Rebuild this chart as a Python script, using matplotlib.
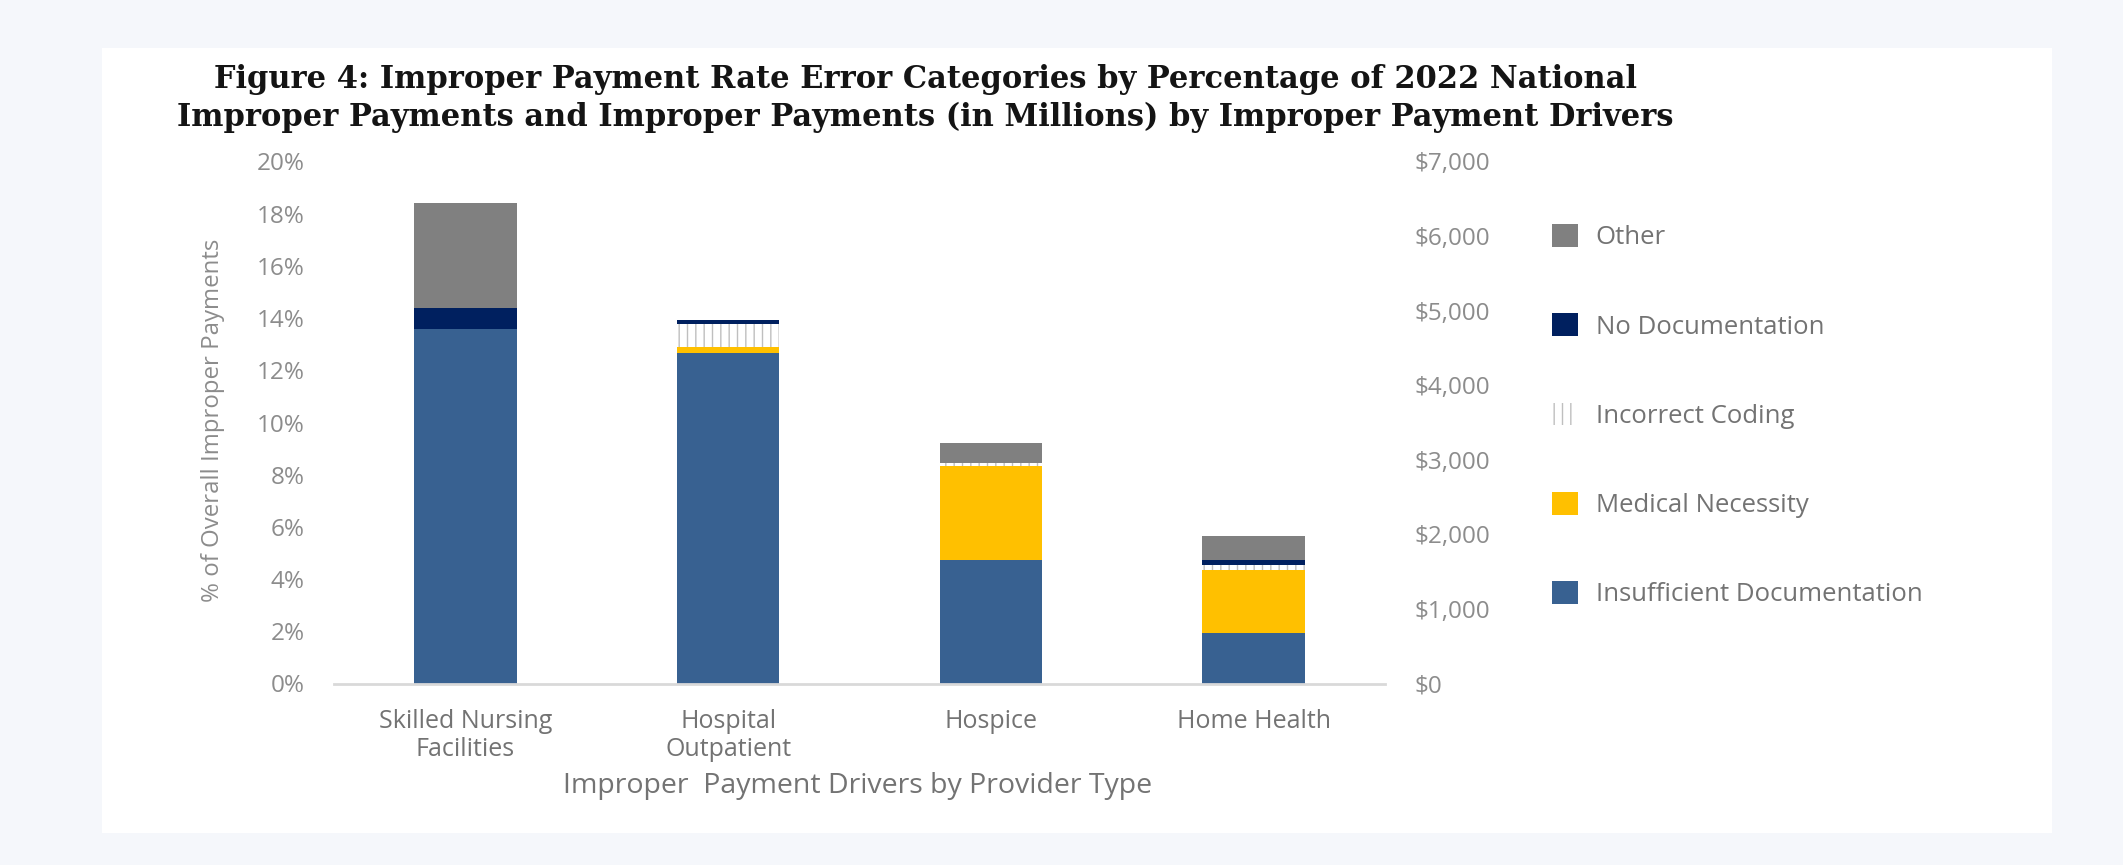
import matplotlib
matplotlib.use("Agg")
import matplotlib.pyplot as plt
from matplotlib.patches import Patch, Rectangle
import numpy as np

# ---- data ----
categories = ["Skilled Nursing\nFacilities", "Hospital\nOutpatient", "Hospice", "Home Health"]
series_names = ["Insufficient Documentation", "Medical Necessity", "Incorrect Coding",
                "No Documentation", "Other"]
insufficient_doc = [13.6, 12.66, 4.73, 1.93]
medical_necessity = [0.0, 0.23, 3.60, 2.42]
incorrect_coding = [0.0, 0.90, 0.12, 0.19]
no_documentation = [0.80, 0.15, 0.0, 0.19]
other = [4.0, 0.0, 0.77, 0.92]
left_ticks = [0, 2, 4, 6, 8, 10, 12, 14, 16, 18, 20]
right_ticks = [0, 1000, 2000, 3000, 4000, 5000, 6000, 7000]
title_lines = ["Figure 4: Improper Payment Rate Error Categories by Percentage of 2022 National",
               "Improper Payments and Improper Payments (in Millions) by Improper Payment Drivers"]

series = [insufficient_doc, medical_necessity, incorrect_coding, no_documentation, other]
colors = ["#386191", "#FFC000", "#FFFFFF", "#00205F", "#808080"]
hatches = [None, None, "||", None, None]

W, H, DPI = 2123, 865, 100
fig = plt.figure(figsize=(W / DPI, H / DPI), dpi=DPI)
fig.patch.set_facecolor("#F5F7FB")

# white panel
fig.patches.append(Rectangle((102 / W, 1 - 833 / H), (2052 - 102) / W, (833 - 48) / H,
                             transform=fig.transFigure, facecolor="white",
                             edgecolor="none", zorder=-5))

sans = ["Open Sans", "DejaVu Sans"]
tick_gray = "#8C8C8C"
text_gray = "#737373"

ax_l, ax_r = 334 / W, 1385 / W
ax_b, ax_t = 1 - 683.5 / H, 1 - 161.5 / H
ax = fig.add_axes([ax_l, ax_b, ax_r - ax_l, ax_t - ax_b])
ax.set_facecolor("none")

x = np.arange(len(categories))
bottom = np.zeros(len(categories))
for vals, c, h in zip(series, colors, hatches):
    vals = np.array(vals)
    if h:
        ax.bar(x, vals, 0.39, bottom=bottom, color=c, hatch=h,
               edgecolor="#BFBFBF", linewidth=0, zorder=2)
    else:
        ax.bar(x, vals, 0.39, bottom=bottom, color=c, linewidth=0, zorder=2)
    bottom += vals

ax.set_xlim(-0.5, len(categories) - 0.5)
ax.set_ylim(0, 20)
ax.set_yticks(left_ticks)
ax.set_yticklabels([f"{t}%" for t in left_ticks], family=sans, fontsize=17.5, color=tick_gray)
ax.set_xticks(x)
ax.set_xticklabels(categories, family=sans, fontsize=18, color=text_gray, linespacing=1.2)
ax.tick_params(axis="y", length=0, pad=21)
ax.tick_params(axis="x", length=0, pad=18)
for s in ["top", "right", "left"]:
    ax.spines[s].set_visible(False)
ax.spines["bottom"].set_color("#D9D9D9")
ax.spines["bottom"].set_linewidth(2)

ax2 = ax.twinx()
ax2.set_ylim(0, 7000)
ax2.set_yticks(right_ticks)
ax2.set_yticklabels([f"${t:,}" for t in right_ticks], family=sans, fontsize=17.5, color=tick_gray)
ax2.tick_params(axis="y", length=0, pad=21)
for s in ax2.spines.values():
    s.set_visible(False)

# y label and x label
fig.text(213 / W, 1 - 420 / H, "% of Overall Improper Payments", rotation=90,
         ha="center", va="center", family=sans, fontsize=17.3, color=tick_gray)
fig.text(858 / W, 1 - 786 / H, "Improper  Payment Drivers by Provider Type",
         ha="center", va="center", family=sans, fontsize=20.5, color=text_gray)

# title (two lines, baselines at 88 px and 126 px from top)
title_cx = 925
for line, base in zip(title_lines, [88, 126]):
    fig.text(title_cx / W, 1 - base / H, line, ha="center", va="baseline",
             family=["DejaVu Serif"], fontweight="bold", fontsize=22,
             color="#141414")

# legend
handles = []
for name, c, h in zip(series_names, colors, hatches):
    if h:
        handles.append(Patch(facecolor="white", hatch=h, edgecolor="#BFBFBF", linewidth=0, label=name))
    else:
        handles.append(Patch(facecolor=c, edgecolor="none", label=name))
leg = fig.legend(handles[::-1], series_names[::-1], loc="upper left",
                 bbox_to_anchor=(1552 / W, 1 - 224 / H), frameon=False,
                 prop={"family": sans, "size": 18.5}, labelcolor=text_gray,
                 handlelength=1.0, handleheight=1.0, handletextpad=0.7,
                 labelspacing=2.45, borderpad=0, borderaxespad=0)

fig.savefig("out.png", dpi=DPI, facecolor=fig.get_facecolor())
